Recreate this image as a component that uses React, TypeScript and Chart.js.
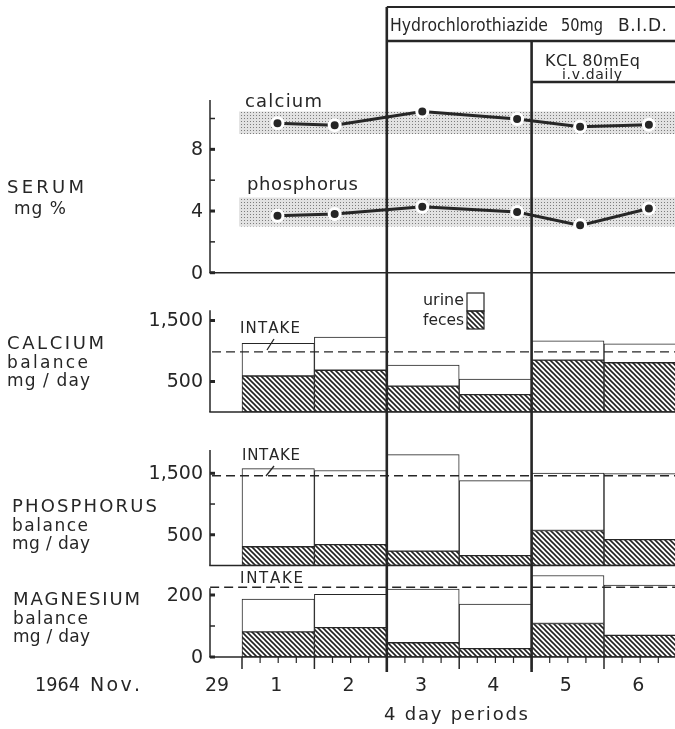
import React, { useEffect, useRef } from 'react';
import { Chart, registerables } from 'chart.js';

Chart.register(...registerables);

// ---------------- data ----------------
const periods = [1, 2, 3, 4, 5, 6];
const hctzStart = 2; // Hydrochlorothiazide begins after period 2
const kclStart = 4; // KCL begins after period 4

const serumX = [0.49, 1.28, 2.49, 3.8, 4.67, 5.62];
const serumCa = [9.7, 9.57, 10.46, 9.96, 9.46, 9.59];
const serumP = [3.69, 3.8, 4.28, 3.94, 3.07, 4.16];
const serumCaNormal = [9.0, 10.45];
const serumPNormal = [3.0, 4.88];

const caTotal = [1125, 1230, 770, 538, 1165, 1118];
const caFeces = [590, 685, 425, 285, 850, 808];
const caIntake = 985;

const pTotal = [1575, 1545, 1805, 1380, 1505, 1495];
const pFeces = [305, 340, 235, 160, 570, 420];
const pIntake = 1460;

const mgTotal = [187, 202, 219, 171, 263, 232];
const mgFeces = [81, 95, 46, 27, 108, 70];
const mgIntake = 225;

const serumTicks = [0, 2, 4, 6, 8, 10];
const serumLabeled = [0, 4, 8];
const caTicks = [500, 1500];
const caLabeled = [500, 1500];
const pTicks = [500, 1000, 1500];
const pLabeled = [500, 1500];
const mgTicks = [0, 100, 200];
const mgLabeled = [0, 200];

// ---------------- layout ----------------
const W = 675;
const H = 729;
const AREA = { left: 210, top: 0, right: 675, bottom: 657 };
const INK = '#262626';
const FONT = '"DejaVu Sans", sans-serif';

function spanY(v0: number, p0: number, v1: number, p1: number) {
  const k = (p0 - p1) / (v1 - v0);
  return { min: v0 - (AREA.bottom - p0) / k, max: v0 + (p0 - AREA.top) / k };
}
function spanX(v0: number, p0: number, v1: number, p1: number) {
  const k = (p1 - p0) / (v1 - v0);
  return { min: v0 - (p0 - AREA.left) / k, max: v0 + (AREA.right - p0) / k };
}

const X_RANGE = spanX(0, 242, 5, 604);
const SER_RANGE = spanY(0, 272.7, 10, 118.5);
const CA_RANGE = spanY(0, 412, 1500, 320.5);
const P_RANGE = spanY(0, 565.5, 1500, 473.3);
const MG_RANGE = spanY(0, 657, 200, 595);

const PANELS = [
  { id: 'ySer', axisTop: 11.2, ticks: serumTicks, labeled: serumLabeled },
  { id: 'yCa', axisTop: 1670, ticks: caTicks, labeled: caLabeled },
  { id: 'yP', axisTop: 1880, ticks: pTicks, labeled: pLabeled },
  { id: 'yMg', axisTop: 222, ticks: mgTicks, labeled: mgLabeled },
];

function makeHatch() {
  const s = 5;
  const c = document.createElement('canvas');
  c.width = s;
  c.height = s;
  const g = c.getContext('2d')!;
  g.fillStyle = '#fff';
  g.fillRect(0, 0, s, s);
  g.strokeStyle = '#222';
  g.lineWidth = 1.6;
  g.beginPath();
  g.moveTo(-1, -1);
  g.lineTo(s + 1, s + 1);
  g.moveTo(-1, s - 1);
  g.lineTo(1, s + 1);
  g.moveTo(s - 1, -1);
  g.lineTo(s + 1, 1);
  g.stroke();
  return g.createPattern(c, 'repeat');
}

function makeStipple() {
  const c = document.createElement('canvas');
  c.width = 3;
  c.height = 3;
  const g = c.getContext('2d')!;
  g.fillStyle = '#e2e2e2';
  g.fillRect(0, 0, 3, 3);
  g.fillStyle = '#7c7c7c';
  g.fillRect(1, 1, 1, 1);
  return g.createPattern(c, 'repeat');
}

function line(ctx: CanvasRenderingContext2D, x1: number, y1: number, x2: number, y2: number, w: number) {
  ctx.lineWidth = w;
  ctx.beginPath();
  ctx.moveTo(x1, y1);
  ctx.lineTo(x2, y2);
  ctx.stroke();
}

function fit(ctx: CanvasRenderingContext2D, text: string, left: number, right: number, baseline: number, size: number) {
  ctx.font = `${size}px ${FONT}`;
  const chars = Array.from(text);
  const widths = chars.map((c) => ctx.measureText(c).width);
  const natural = widths.reduce((a, b) => a + b, 0);
  const target = right - left;
  let spacing = chars.length > 1 ? (target - natural) / (chars.length - 1) : 0;
  let sx = 1;
  if (spacing < 0) {
    spacing = 0;
    sx = target / natural;
  }
  ctx.save();
  ctx.translate(left, baseline);
  ctx.scale(sx, 1);
  ctx.textAlign = 'left';
  ctx.textBaseline = 'alphabetic';
  let x = 0;
  chars.forEach((c, i) => {
    ctx.fillText(c, x, 0);
    x += widths[i] + spacing;
  });
  ctx.restore();
}

const decor = {
  id: 'decor',
  beforeDraw(chart: any) {
    const { ctx } = chart;
    ctx.save();
    ctx.fillStyle = '#fff';
    ctx.fillRect(0, 0, chart.width, chart.height);
    ctx.restore();
  },
  afterDraw(chart: any) {
    const ctx: CanvasRenderingContext2D = chart.ctx;
    const area = chart.chartArea;
    const xs = chart.scales.x;
    ctx.save();
    ctx.strokeStyle = INK;
    ctx.fillStyle = INK;

    // panel axes, ticks and tick labels
    for (const p of PANELS) {
      const ys = chart.scales[p.id];
      const y0 = ys.getPixelForValue(0);
      const yt = ys.getPixelForValue(p.axisTop);
      line(ctx, area.left, yt, area.left, y0, 1.5);
      line(ctx, area.left - 0.75, y0, area.right, y0, 1.5);
      for (const v of p.ticks) {
        const y = ys.getPixelForValue(v);
        const major = p.labeled.includes(v);
        line(ctx, area.left, y, area.left + 5, y, major ? 3 : 1.5);
        if (major) {
          ctx.font = `19px ${FONT}`;
          ctx.textAlign = 'right';
          ctx.textBaseline = 'middle';
          ctx.fillText(v.toLocaleString('en-US'), area.left - 7, y + 1);
        }
      }
    }

    // x axis day ticks
    const yb = chart.scales.yMg.getPixelForValue(0);
    for (let i = 0; i <= periods.length * 4; i++) {
      const v = i / 4;
      const x = xs.getPixelForValue(v);
      const major = i % 4 === 0;
      line(ctx, x, yb, x, yb + (major ? 12 : 6), major ? 1.5 : 1.2);
    }
    ctx.font = `19px ${FONT}`;
    ctx.textAlign = 'center';
    ctx.textBaseline = 'alphabetic';
    periods.forEach((p) => ctx.fillText(String(p), xs.getPixelForValue(p - 0.5) - 2, 691));
    fit(ctx, '1964', 35, 80, 691, 19);
    fit(ctx, 'Nov.', 90, 140, 691, 19);
    fit(ctx, '29', 205, 229, 691, 19);
    fit(ctx, '4 day periods', 384, 528, 720, 18);

    // treatment markers
    const xh = xs.getPixelForValue(hctzStart);
    const xk = xs.getPixelForValue(kclStart);
    line(ctx, xh, 7, xh, 672, 2.6);
    line(ctx, xk, 41, xk, 672, 2.6);
    line(ctx, xh, 7, W, 7, 1.8);
    line(ctx, xh, 41, W, 41, 2.6);
    line(ctx, xk, 82, W, 82, 2.6);
    fit(ctx, 'Hydrochlorothiazide', 390, 548, 31, 17);
    fit(ctx, '50mg', 561, 603, 31, 17);
    fit(ctx, 'B.I.D.', 618, 667, 31, 17);
    fit(ctx, 'KCL 80mEq', 545, 640, 66, 16);
    fit(ctx, 'i.v.daily', 562, 622, 79, 14);

    // serum series labels
    fit(ctx, 'calcium', 245, 322, 107, 18);
    fit(ctx, 'phosphorus', 247, 358, 190, 18);

    // left titles
    fit(ctx, 'SERUM', 7, 84, 193, 18);
    fit(ctx, 'mg %', 14, 66, 214, 17);
    fit(ctx, 'CALCIUM', 7, 104, 349, 18);
    fit(ctx, 'balance', 7, 88, 368, 17);
    fit(ctx, 'mg / day', 7, 90, 386, 17);
    fit(ctx, 'PHOSPHORUS', 12, 157, 512, 18);
    fit(ctx, 'balance', 12, 88, 531, 17);
    fit(ctx, 'mg / day', 12, 90, 549, 17);
    fit(ctx, 'MAGNESIUM', 13, 140, 605, 18);
    fit(ctx, 'balance', 13, 88, 624, 17);
    fit(ctx, 'mg / day', 13, 90, 642, 17);

    // intake labels
    fit(ctx, 'INTAKE', 240, 300, 333, 15);
    line(ctx, 267, 350, 274, 339, 1.3);
    fit(ctx, 'INTAKE', 242, 300, 460, 15);
    line(ctx, 266, 476, 274, 466, 1.3);
    fit(ctx, 'INTAKE', 240, 303, 583, 15);

    // legend
    fit(ctx, 'urine', 423, 464, 305, 16);
    fit(ctx, 'feces', 423, 464, 325, 16);
    ctx.fillStyle = '#fff';
    ctx.fillRect(467, 293, 17, 18);
    ctx.fillStyle = chart.$hatch;
    ctx.fillRect(467, 311, 17, 18);
    ctx.lineWidth = 1.2;
    ctx.strokeRect(467, 293, 17, 18);
    ctx.strokeRect(467, 311, 17, 18);

    ctx.restore();
  },
};

export default function App() {
  const ref = useRef<HTMLCanvasElement>(null);

  useEffect(() => {
    const canvas = ref.current!;
    const hatch = makeHatch();
    const stipple = makeStipple();
    const centers = periods.map((p) => p - 0.5);
    const BAND_X0 = -0.04;
    const X_END = periods.length;

    const barBase = {
      type: 'bar',
      borderColor: INK,
      borderWidth: 1,
      borderSkipped: false,
      barThickness: 'flex',
      categoryPercentage: 1,
      barPercentage: 1,
      stack: 'periods',
      order: 3,
    };
    const barsFor = (yAxisID: string, total: number[], feces: number[]) => [
      { ...barBase, yAxisID, backgroundColor: '#fff', data: centers.map((x, i) => ({ x, y: [feces[i], total[i]] })) },
      { ...barBase, yAxisID, backgroundColor: hatch, data: centers.map((x, i) => ({ x, y: [0, feces[i]] })) },
    ];
    const intakeFor = (yAxisID: string, v: number, x0: number) => ({
      type: 'line',
      yAxisID,
      data: [
        { x: x0, y: v },
        { x: X_END, y: v },
      ],
      borderColor: INK,
      borderWidth: 1.3,
      borderDash: [9, 5],
      pointRadius: 0,
      fill: false,
      order: 1,
    });
    const bandFor = (lohi: number[]) => [
      {
        type: 'line',
        yAxisID: 'ySer',
        data: [
          { x: BAND_X0, y: lohi[1] },
          { x: X_END, y: lohi[1] },
        ],
        borderWidth: 0,
        borderColor: 'rgba(0,0,0,0)',
        pointRadius: 0,
        fill: '+1',
        backgroundColor: stipple,
        order: 5,
      },
      {
        type: 'line',
        yAxisID: 'ySer',
        data: [
          { x: BAND_X0, y: lohi[0] },
          { x: X_END, y: lohi[0] },
        ],
        borderWidth: 0,
        borderColor: 'rgba(0,0,0,0)',
        pointRadius: 0,
        fill: false,
        order: 5,
      },
    ];
    const serumLine = (vals: number[]) => ({
      type: 'line',
      yAxisID: 'ySer',
      data: serumX.map((x, i) => ({ x, y: vals[i] })),
      borderColor: INK,
      borderWidth: 3,
      pointRadius: 5.5,
      pointBorderWidth: 3,
      pointBackgroundColor: INK,
      pointBorderColor: '#fff',
      fill: false,
      tension: 0,
      order: 0,
    });

    const datasets: any[] = [
      serumLine(serumCa),
      serumLine(serumP),
      ...bandFor(serumCaNormal),
      ...bandFor(serumPNormal),
      intakeFor('yCa', caIntake, -0.414),
      intakeFor('yP', pIntake, -0.414),
      intakeFor('yMg', mgIntake, -0.44),
      ...barsFor('yCa', caTotal, caFeces),
      ...barsFor('yP', pTotal, pFeces),
      ...barsFor('yMg', mgTotal, mgFeces),
    ];

    const hidden = (r: { min: number; max: number }) => ({
      type: 'linear',
      min: r.min,
      max: r.max,
      display: false,
      stacked: false,
    });

    const chart = new Chart(canvas, {
      type: 'bar',
      data: { datasets },
      options: {
        responsive: false,
        maintainAspectRatio: false,
        animation: false,
        events: [],
        layout: {
          autoPadding: false,
          padding: { left: AREA.left, top: AREA.top, right: W - AREA.right, bottom: H - AREA.bottom },
        },
        plugins: { legend: { display: false }, tooltip: { enabled: false } },
        scales: {
          x: { type: 'linear', min: X_RANGE.min, max: X_RANGE.max, display: false, offset: false },
          ySer: hidden(SER_RANGE),
          yCa: hidden(CA_RANGE),
          yP: hidden(P_RANGE),
          yMg: hidden(MG_RANGE),
        },
      } as any,
      plugins: [decor as any],
    } as any);
    (chart as any).$hatch = hatch;
    chart.draw();

    return () => chart.destroy();
  }, []);

  return (
    <div style={{ position: 'fixed', left: 0, top: 0, width: W, height: H, background: '#fff' }}>
      <canvas ref={ref} width={W} height={H} style={{ display: 'block', width: W, height: H }} />
    </div>
  );
}
